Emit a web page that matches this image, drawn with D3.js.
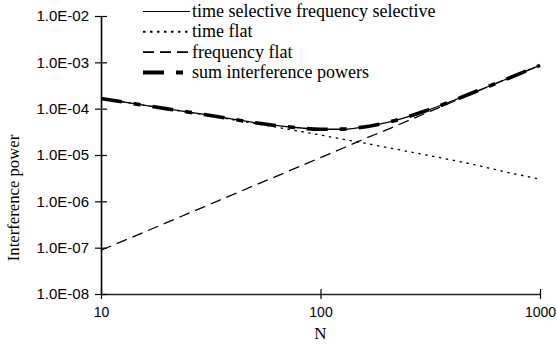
<!DOCTYPE html>
<html>
<head>
<meta charset="utf-8">
<script src="https://cdn.jsdelivr.net/npm/d3@7"></script>
<style>
  body { margin: 0; background: #fff; }
  svg { display: block; }
</style>
</head>
<body>
<div id="chart"></div>
<script>
const width = 557;
const height = 347;
const margin = { top: 16, right: 17, bottom: 53, left: 101 };

// values
const nValues = [10, 20, 30, 50, 70, 100, 130, 150, 200, 300, 500, 700, 1000];
const timeFreqSelective = [1.66e-4, 9.9e-5, 7.4e-5, 5.0e-5, 4.1e-5, 3.6e-5, 3.6e-5, 3.9e-5, 5.0e-5, 8.9e-5, 2.26e-4, 4.3e-4, 8.6e-4];
const timeFlat = [1.66e-4, 9.9e-5, 7.3e-5, 4.8e-5, 3.65e-5, 2.7e-5, 2.14e-5, 1.89e-5, 1.46e-5, 1.01e-5, 6.2e-6, 4.3e-6, 3.0e-6];
const freqFlat = [8.8e-8, 3.5e-7, 7.9e-7, 2.2e-6, 4.3e-6, 8.8e-6, 1.49e-5, 2.0e-5, 3.5e-5, 7.9e-5, 2.2e-4, 4.3e-4, 8.6e-4];
const sumPowers = [1.66e-4, 9.9e-5, 7.4e-5, 5.0e-5, 4.1e-5, 3.6e-5, 3.63e-5, 3.9e-5, 5.0e-5, 8.9e-5, 2.26e-4, 4.3e-4, 8.6e-4];

const xTicks = [10, 100, 1000];
const xTickLabels = ["10", "100", "1000"];
const yTicks = [1e-8, 1e-7, 1e-6, 1e-5, 1e-4, 1e-3, 1e-2];
const yTickLabels = ["1.0E-08", "1.0E-07", "1.0E-06", "1.0E-05", "1.0E-04", "1.0E-03", "1.0E-02"];

const seriesNames = [
  "time selective frequency selective",
  "time flat",
  "frequency flat",
  "sum interference powers"
];
const seriesValues = [timeFreqSelective, timeFlat, freqFlat, sumPowers];
const seriesStyle = [
  { w: 1.3, dash: null, lw: 1.2 },
  { w: 1.3, dash: "2.5,4.5", lw: 2 },
  { w: 1.3, dash: "11,6", lw: 1.6 },
  { w: 3.6, dash: "21,12,7,12", lw: 4 }
];

const svg = d3.select("#chart")
  .append("svg")
  .attr("width", width)
  .attr("height", height);

const x = d3.scaleLog()
  .domain([10, 1000])
  .range([margin.left, width - margin.right]);

const y = d3.scaleLog()
  .domain([1e-8, 1e-2])
  .range([height - margin.bottom, margin.top]);

// axes
const xAxis = svg.append("g")
  .attr("transform", `translate(0,${y(1e-8)})`)
  .call(d3.axisBottom(x).tickValues(xTicks).tickFormat((d, i) => xTickLabels[i]).tickSizeOuter(0));
xAxis.select(".domain").attr("stroke", "#222").attr("stroke-width", 1.6);
xAxis.selectAll(".tick line").attr("y1", -5).attr("y2", 5).attr("stroke", "#000").attr("stroke-width", 1.2);
xAxis.selectAll(".tick text")
  .attr("y", 13)
  .attr("font-family", "Liberation Sans, Arial, sans-serif")
  .attr("font-size", 14)
  .attr("fill", "#000");

const yAxis = svg.append("g")
  .attr("transform", `translate(${x(10)},0)`)
  .call(d3.axisLeft(y).tickValues(yTicks).tickFormat((d, i) => yTickLabels[i]).tickSizeOuter(0));
yAxis.select(".domain").attr("stroke", "#000").attr("stroke-width", 1.6);
yAxis.selectAll(".tick line").attr("x1", -6).attr("x2", 6).attr("stroke", "#000").attr("stroke-width", 1.2);
yAxis.selectAll(".tick text")
  .attr("x", -12)
  .attr("font-family", "Liberation Sans, Arial, sans-serif")
  .attr("font-size", 15)
  .attr("fill", "#000");

svg.append("text")
  .attr("x", x(100))
  .attr("y", 339)
  .attr("text-anchor", "middle")
  .attr("font-family", "Liberation Serif, Times New Roman, serif")
  .attr("font-size", 17)
  .text("N");

svg.append("text")
  .attr("transform", `translate(19,198) rotate(-90)`)
  .attr("text-anchor", "middle")
  .attr("font-family", "Liberation Serif, Times New Roman, serif")
  .attr("font-size", 16.7)
  .text("Interference power");

// curves
const line = d3.line()
  .x((d, i) => x(nValues[i]))
  .y(d => y(d))
  .curve(d3.curveMonotoneX);

svg.append("g")
  .selectAll("path")
  .data(seriesValues)
  .join("path")
    .attr("d", d => line(d))
    .attr("fill", "none")
    .attr("stroke", "#000")
    .attr("stroke-width", (d, i) => seriesStyle[i].w)
    .attr("stroke-dasharray", (d, i) => seriesStyle[i].dash);

// legend
const legend = svg.append("g").attr("transform", "translate(143,11.5)");
const rows = legend.selectAll("g")
  .data(seriesNames)
  .join("g")
    .attr("transform", (d, i) => `translate(0,${i * 20.3})`);
rows.append("line")
  .attr("x1", 0).attr("x2", 47)
  .attr("stroke", "#000")
  .attr("stroke-width", (d, i) => seriesStyle[i].lw)
  .attr("stroke-dasharray", (d, i) => seriesStyle[i].dash);
rows.append("text")
  .attr("x", 49)
  .attr("y", 5.5)
  .attr("font-family", "Liberation Serif, Times New Roman, serif")
  .attr("font-size", 18)
  .text(d => d);
</script>
</body>
</html>
